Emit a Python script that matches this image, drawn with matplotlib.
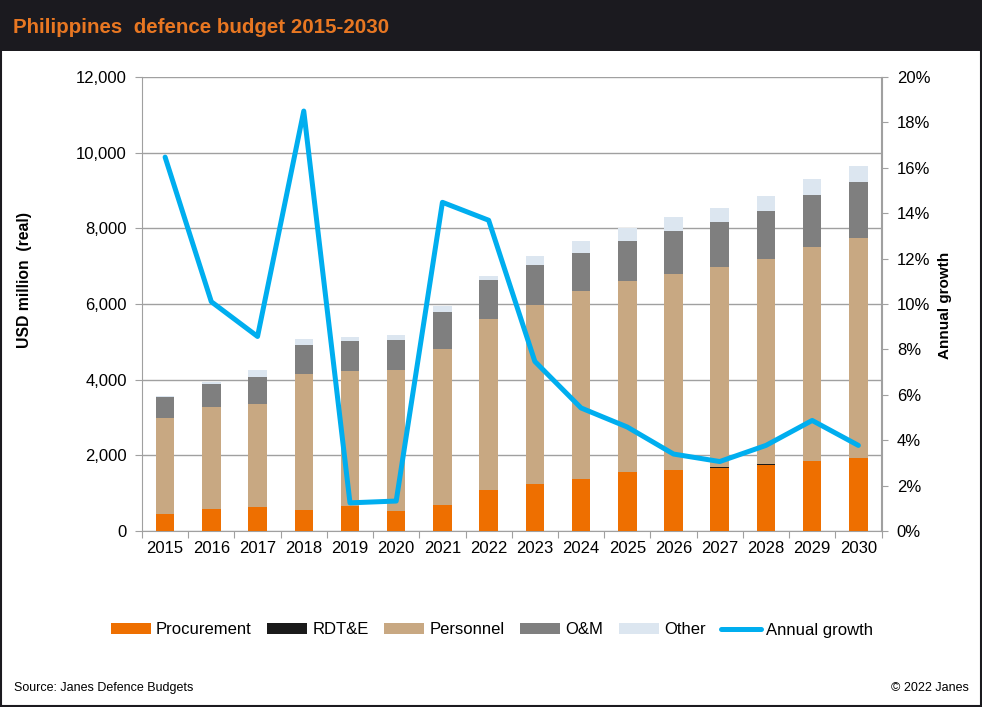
import matplotlib
matplotlib.use("Agg")
import matplotlib.pyplot as plt
import numpy as np
from matplotlib.patches import Rectangle
from matplotlib.ticker import FuncFormatter, FixedLocator, MultipleLocator

plt.rcParams['font.family'] = ['Liberation Sans', 'DejaVu Sans']

years = [str(y) for y in range(2015, 2031)]
procurement = [450, 590, 640, 560, 670, 540, 700, 1090, 1250, 1380, 1550, 1600, 1660, 1740, 1840, 1920]
rdte = [0, 0, 0, 0, 0, 0, 0, 0, 0, 0, 0, 0, 20, 20, 0, 0]
personnel = [2550, 2700, 2730, 3580, 3550, 3710, 4100, 4510, 4720, 4960, 5060, 5190, 5300, 5430, 5660, 5820]
om = [530, 590, 690, 770, 800, 790, 980, 1030, 1060, 1020, 1050, 1140, 1190, 1270, 1380, 1490]
other = [50, 70, 200, 160, 120, 150, 180, 120, 240, 300, 340, 360, 360, 390, 420, 420]
growth = [16.47, 10.1, 8.57, 18.5, 1.24, 1.32, 14.48, 13.69, 7.47, 5.42, 4.58, 3.39, 3.06, 3.77, 4.87, 3.77]

c_proc = '#EE6F00'
c_rdte = '#1a1a1a'
c_pers = '#C8A882'
c_om = '#7F7F7F'
c_other = '#DCE6F0'
c_line = '#00AEEF'
c_grid = '#A0A0A0'

W, H = 982, 707
fig = plt.figure(figsize=(W / 100, H / 100), dpi=100)

# title bar
fig.patches.append(Rectangle((0, 1 - 51 / H), 1, 51 / H, transform=fig.transFigure,
                             facecolor='#1B1A1F', edgecolor='none', zorder=0))
fig.text(13 / W, 1 - 33 / H, 'Philippines  defence budget 2015-2030', color='#E87722',
         fontsize=14.8, fontweight='bold', ha='left', va='baseline')
# border
fig.patches.append(Rectangle((0.0008, 0.001), 0.9984, 0.998, transform=fig.transFigure,
                             facecolor='none', edgecolor='#1B1A1F', linewidth=1.5, zorder=0))

left, right, top, bottom = 142, 881.5, 77, 531
ax = fig.add_axes([left / W, 1 - bottom / H, (right - left) / W, (bottom - top) / H])
x = np.arange(len(years))
w = 0.4
b = np.zeros(len(years))
series = [(procurement, c_proc, 'Procurement'), (rdte, c_rdte, 'RDT&E'),
          (personnel, c_pers, 'Personnel'), (om, c_om, 'O&M'), (other, c_other, 'Other')]
handles = []
for vals, col, lab in series:
    v = np.array(vals, dtype=float)
    h = ax.bar(x, v, w, bottom=b, color=col, label=lab, zorder=3, linewidth=0)
    handles.append(h)
    b += v

ax.set_xlim(-0.5, len(years) - 0.5)
ax.set_ylim(0, 12000)
ax.yaxis.set_major_locator(MultipleLocator(2000))
ax.yaxis.set_major_formatter(FuncFormatter(lambda v, p: f'{int(v):,}'))
ax.grid(axis='y', color=c_grid, linewidth=1, zorder=0)
ax.set_axisbelow(True)
ax.xaxis.set_major_locator(FixedLocator(np.arange(-0.5, len(years), 1.0)))
ax.xaxis.set_major_formatter(FuncFormatter(lambda v, p: ''))
ax.set_xticks(x, minor=True)
ax.set_xticklabels(years, minor=True)
ax.tick_params(axis='x', which='minor', length=0, labelsize=12, pad=7)
ax.tick_params(axis='x', which='major', length=5, color=c_grid, direction='out')
ax.tick_params(axis='y', length=5, color=c_grid, labelsize=12, pad=6)
ax.spines['top'].set_visible(False)
for s in ['left', 'bottom', 'right']:
    ax.spines[s].set_color(c_grid)
fig.text(25 / W, 1 - 280 / H, 'USD million  (real)', fontsize=11.3, fontweight='bold',
         rotation=90, ha='center', va='center')

ax2 = ax.twinx()
ln, = ax2.plot(x, np.array(growth) / 100, color=c_line, linewidth=3.6, solid_capstyle='round',
               solid_joinstyle='round', label='Annual growth', zorder=5)
ax2.set_ylim(0, 0.20)
ax2.yaxis.set_major_locator(MultipleLocator(0.02))
ax2.yaxis.set_major_formatter(FuncFormatter(lambda v, p: f'{v * 100:.0f}%'))
ax2.tick_params(axis='y', length=5, color=c_grid, labelsize=12, pad=6)
for s in ['top', 'left', 'bottom']:
    ax2.spines[s].set_visible(False)
ax2.spines['right'].set_color(c_grid)
fig.text(945 / W, 1 - 305 / H, 'Annual growth', fontsize=11, fontweight='bold',
         rotation=90, ha='center', va='center')

fig.legend(handles + [ln], [s[2] for s in series] + ['Annual growth'],
           loc='center', bbox_to_anchor=(492 / W, 1 - 630 / H), ncol=6, frameon=False,
           fontsize=12, handlelength=2.4, handleheight=0.6, handletextpad=0.3,
           columnspacing=0.95, borderaxespad=0)

fig.text(14 / W, 1 - 688 / H, 'Source: Janes Defence Budgets', fontsize=9, ha='left', va='center')
fig.text(969 / W, 1 - 688 / H, '© 2022 Janes', fontsize=9, ha='right', va='center')

fig.savefig('out.png', dpi=100)
